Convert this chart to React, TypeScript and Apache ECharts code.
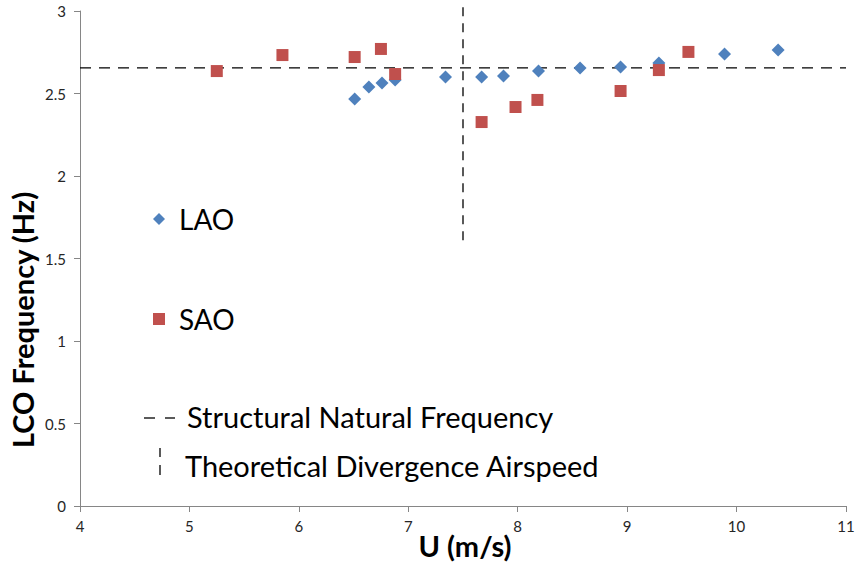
import React, { useEffect, useRef } from "react";
import * as echarts from "echarts";

const laoU = [6.51, 6.64, 6.76, 6.88, 7.34, 7.67, 7.87, 8.19, 8.57, 8.94, 9.29, 9.89, 10.38];
const laoF = [2.467, 2.539, 2.564, 2.582, 2.6, 2.6, 2.606, 2.636, 2.655, 2.661, 2.685, 2.739, 2.764];
const saoU = [5.25, 5.85, 6.51, 6.75, 6.88, 7.67, 7.98, 8.18, 8.94, 9.29, 9.56];
const saoF = [2.636, 2.733, 2.721, 2.77, 2.618, 2.327, 2.418, 2.461, 2.515, 2.642, 2.752];
const naturalFreq = 2.655;
const naturalFreqRange = [4, 11];
const divergenceU = 7.5;
const divergenceRange = [1.61, 3.036];

const FONT = "Lato";
const BLUE = "#4F81BD";
const RED = "#C0504D";

export default function App() {
  const ref = useRef<HTMLDivElement>(null);
  useEffect(() => {
    if (!ref.current) return;
    const chart = echarts.init(ref.current, undefined, { renderer: "svg" });
    chart.setOption({
      animation: false,
      backgroundColor: "#ffffff",
      grid: { left: 80, right: 12, top: 11, bottom: 61 },
      xAxis: {
        type: "value",
        min: 4,
        max: 11,
        interval: 1,
        axisLine: { lineStyle: { color: "#868686", width: 1 } },
        axisTick: { show: true, length: 6, lineStyle: { color: "#868686" } },
        axisLabel: { color: "#262626", fontFamily: FONT, fontSize: 15, margin: 12 },
        splitLine: { show: false },
      },
      yAxis: {
        type: "value",
        min: 0,
        max: 3,
        interval: 0.5,
        axisLine: { show: true, lineStyle: { color: "#868686", width: 1 } },
        axisTick: { show: true, length: 6, lineStyle: { color: "#868686" } },
        axisLabel: { color: "#262626", fontFamily: FONT, fontSize: 15, margin: 14 },
        splitLine: { show: false },
      },
      series: [
        {
          type: "line",
          data: naturalFreqRange.map((u) => [u, naturalFreq]),
          symbol: "none",
          lineStyle: { color: "#000", width: 1.3, type: [11, 8] },
          z: 1,
        },
        {
          type: "line",
          data: divergenceRange.map((f) => [divergenceU, f]),
          symbol: "none",
          clip: false,
          lineStyle: { color: "#000", width: 1.3, type: [9, 7] },
          z: 1,
        },
        {
          type: "scatter",
          data: laoU.map((u, i) => [u, laoF[i]]),
          symbol: "diamond",
          symbolSize: 13,
          itemStyle: { color: BLUE, opacity: 1 },
          z: 3,
        },
        {
          type: "scatter",
          data: saoU.map((u, i) => [u, saoF[i]]),
          symbol: "rect",
          symbolSize: 12,
          itemStyle: { color: RED, opacity: 1 },
          z: 4,
        },
      ],
      graphic: [
        {
          type: "text",
          x: 22,
          y: 320,
          rotation: Math.PI / 2,
          style: {
            text: "LCO Frequency (Hz)",
            fontFamily: FONT,
            fontWeight: "bold",
            fontSize: 29,
            fill: "#000",
            align: "center",
            verticalAlign: "middle",
          },
        },
        {
          type: "text",
          x: 465,
          y: 545,
          style: {
            text: "U (m/s)",
            fontFamily: FONT,
            fontWeight: "bold",
            fontSize: 29,
            fill: "#000",
            align: "center",
            verticalAlign: "middle",
          },
        },
        {
          type: "polygon",
          shape: { points: [[159, 213], [165, 219], [159, 225], [153, 219]] },
          style: { fill: BLUE },
        },
        {
          type: "text",
          x: 179,
          y: 219,
          style: { text: "LAO", fontFamily: FONT, fontSize: 28, fill: "#000", verticalAlign: "middle" },
        },
        {
          type: "rect",
          shape: { x: 153, y: 313, width: 12, height: 12 },
          style: { fill: RED },
        },
        {
          type: "text",
          x: 179,
          y: 319,
          style: { text: "SAO", fontFamily: FONT, fontSize: 28, fill: "#000", verticalAlign: "middle" },
        },
        {
          type: "line",
          shape: { x1: 144, y1: 418, x2: 155, y2: 418 },
          style: { stroke: "#000", lineWidth: 1.3 },
        },
        {
          type: "line",
          shape: { x1: 165, y1: 418, x2: 175, y2: 418 },
          style: { stroke: "#000", lineWidth: 1.3 },
        },
        {
          type: "text",
          x: 187,
          y: 416,
          style: { text: "Structural Natural Frequency", fontFamily: FONT, fontSize: 29, fill: "#000", verticalAlign: "middle" },
        },
        {
          type: "line",
          shape: { x1: 160, y1: 448, x2: 160, y2: 457 },
          style: { stroke: "#000", lineWidth: 1.3 },
        },
        {
          type: "line",
          shape: { x1: 160, y1: 465, x2: 160, y2: 475 },
          style: { stroke: "#000", lineWidth: 1.3 },
        },
        {
          type: "text",
          x: 185,
          y: 465,
          style: { text: "Theoretical Divergence Airspeed", fontFamily: FONT, fontSize: 29, fill: "#000", verticalAlign: "middle" },
        },
      ],
    });
    return () => chart.dispose();
  }, []);
  return (
    <div
      ref={ref}
      style={{ position: "fixed", left: 0, top: 0, width: 858, height: 567 }}
    />
  );
}
